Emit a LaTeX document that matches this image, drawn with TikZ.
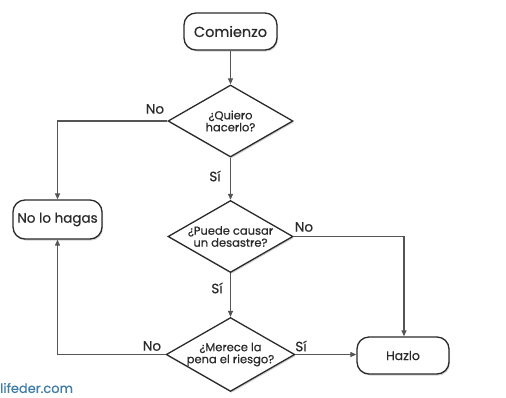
\documentclass[tikz,border=0pt]{standalone}
\usepackage{fontspec}
\setmainfont{Poppins}[FakeBold=0.5]
\usetikzlibrary{shapes.geometric,shadows,arrows.meta}
\definecolor{ln}{HTML}{555555}
\definecolor{tx}{HTML}{2A2A2A}
\definecolor{wm}{HTML}{3F7DA8}
\tikzset{
  term/.style={draw=tx, line width=1.3pt, rounded corners=12pt, fill=white, text=tx,
    drop shadow={opacity=0.35, shadow xshift=1pt, shadow yshift=-1.5pt},
    font=\fontsize{14.5}{16}\selectfont, inner sep=0pt},
  dec/.style={diamond, draw=tx, line width=1.3pt, fill=white, text=tx, inner sep=0pt,
    minimum width=125pt, minimum height=72pt, shape aspect=1.74, align=center,
    drop shadow={opacity=0.35, shadow xshift=1pt, shadow yshift=-1.5pt},
    font=\fontsize{11.5}{12}\selectfont},
  conn/.style={draw=ln, line width=1.2pt, -{Triangle[length=6pt,width=5pt]}},
  lab/.style={text=tx, font=\fontsize{13.5}{15}\selectfont, inner sep=0pt}
}
\begin{document}
\begin{tikzpicture}[x=1pt,y=-1pt]
\useasboundingbox (0,0) rectangle (506,397);
\node[term, minimum width=93pt, minimum height=37pt] (start) at (230.5,31.5) {Comienzo};
\node[dec] (d1) at (230.5,121) {¿Quiero\\hacerlo?};
\node[dec] (d2) at (230.5,236.5) {¿Puede causar\\un desastre?};
\node[dec] (d3) at (230.5,354.5) {¿Merece la\\pena el riesgo?};
\node[term, minimum width=89pt, minimum height=39pt, font=\fontsize{13.5}{15}\selectfont] (no) at (57.5,219.5) {No lo hagas};
\node[term, minimum width=92pt, minimum height=37pt, font=\fontsize{12.5}{14}\selectfont] (hazlo) at (403,355.5) {Hazlo};
\coordinate (c1) at (57.5,121);
\coordinate (c2) at (404,236.5);
\coordinate (c3) at (57.5,354.5);
\draw[conn] (start) -- (d1);
\draw[conn] (d1) -- (d2);
\draw[conn] (d2) -- (d3);
\draw[conn] (d1.west) -- (c1) -- (no);
\draw[conn] (d2.east) -- (c2) -- (hazlo.north -| c2);
\draw[conn] (d3.west) -- (c3) -- (no.south -| c3);
\draw[conn] (d3.east) -- (hazlo.west |- d3.east);
\node[lab] (l1) at (155,109) {No};
\node[lab] (l2) at (215,176) {Sí};
\node[lab] (l3) at (304,227) {No};
\node[lab] (l4) at (217,288) {Sí};
\node[lab] (l5) at (152,346) {No};
\node[lab] (l6) at (301,346) {Sí};
\node[text=wm, font=\fontsize{13}{14}\selectfont, inner sep=0pt, anchor=west] (wmk) at (0,388) {lifeder.com};
\end{tikzpicture}
\end{document}
